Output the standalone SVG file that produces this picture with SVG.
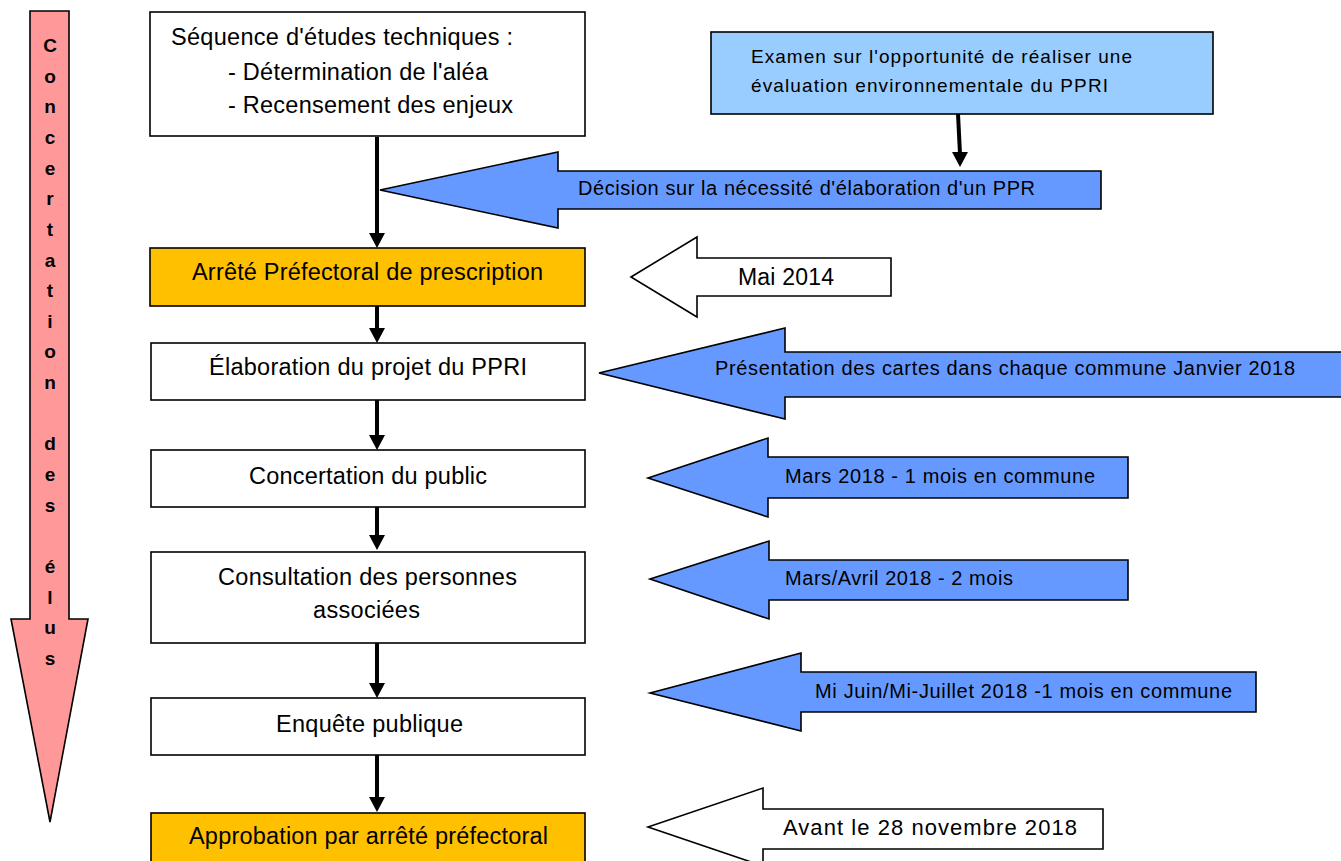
<svg xmlns="http://www.w3.org/2000/svg" width="1341" height="861" viewBox="0 0 1341 861">
<style>
  .box { fill: #ffffff; stroke: #000000; stroke-width: 1.6; }
  .orange { fill: #FFC000; }
  .lblue { fill: #99CCFF; }
  .arrowB { fill: #6699FF; stroke: #000000; stroke-width: 1.6; stroke-linejoin: miter; }
  .arrowW { fill: #ffffff; stroke: #000000; stroke-width: 1.6; }
  .t { font-family: "Liberation Sans", Arial, sans-serif; fill: #000000; }
  .bt { font-size: 23.5px; }
  .at { font-size: 20px; }
  .conn line { stroke: #000000; stroke-width: 4; }
  .conn polygon { fill: #000000; }
</style>

<g id="concertation-elus">
  <polygon points="30,11 69,11 69,619 88,619 50,822 11,619 30,619" fill="#FF9999" stroke="#000000" stroke-width="1.6"/>
  <text class="t" x="50" y="52" font-size="19" font-weight="bold" text-anchor="middle"><tspan x="50">C</tspan><tspan x="50" dy="30.65">o</tspan><tspan x="50" dy="30.65">n</tspan><tspan x="50" dy="30.65">c</tspan><tspan x="50" dy="30.65">e</tspan><tspan x="50" dy="30.65">r</tspan><tspan x="50" dy="30.65">t</tspan><tspan x="50" dy="30.65">a</tspan><tspan x="50" dy="30.65">t</tspan><tspan x="50" dy="30.65">i</tspan><tspan x="50" dy="30.65">o</tspan><tspan x="50" dy="30.65">n</tspan><tspan x="50" dy="61.3">d</tspan><tspan x="50" dy="30.65">e</tspan><tspan x="50" dy="30.65">s</tspan><tspan x="50" dy="61.3">é</tspan><tspan x="50" dy="30.65">l</tspan><tspan x="50" dy="30.65">u</tspan><tspan x="50" dy="30.65">s</tspan></text>
</g>

<g id="etudes">
  <rect class="box" x="150" y="12" width="435" height="124"/>
  <text class="t bt" x="171" y="45" textLength="342" lengthAdjust="spacing">Séquence d'études techniques :</text>
  <text class="t bt" x="228" y="80" textLength="260" lengthAdjust="spacing">- Détermination de l'aléa</text>
  <text class="t bt" x="228" y="113" textLength="285" lengthAdjust="spacing">- Recensement des enjeux</text>
</g>

<g id="examen">
  <rect class="box lblue" x="711" y="32" width="502" height="82"/>
  <text class="t" font-size="19" x="751" y="63" textLength="381" lengthAdjust="spacing">Examen sur l'opportunité de réaliser une</text>
  <text class="t" font-size="19" x="751" y="92" textLength="357" lengthAdjust="spacing">évaluation environnementale du PPRI</text>
</g>

<g id="decision">
  <polygon class="arrowB" points="380,190 558,152 558,171 1101,171 1101,209 558,209 558,228"/>
  <text class="t at" x="578" y="195" textLength="457" lengthAdjust="spacing">Décision sur la nécessité d'élaboration d'un PPR</text>
</g>

<g id="arrete">
  <rect class="box orange" x="150" y="248" width="435" height="58"/>
  <text class="t bt" x="192" y="280" textLength="351" lengthAdjust="spacing">Arrêté Préfectoral de prescription</text>
</g>

<g id="mai2014">
  <polygon class="arrowW" points="631,277 697,237 697,258 891,258 891,296 697,296 697,317"/>
  <text class="t" font-size="23" x="738" y="285" textLength="96" lengthAdjust="spacing">Mai 2014</text>
</g>

<g id="elaboration">
  <rect class="box" x="151" y="343" width="434" height="57"/>
  <text class="t bt" x="209" y="375" textLength="318" lengthAdjust="spacing">Élaboration du projet du PPRI</text>
</g>

<g id="presentation">
  <polygon class="arrowB" points="599,373 785,328 785,352 1346,352 1346,397 785,397 785,419"/>
  <text class="t at" x="715" y="375" textLength="580" lengthAdjust="spacing">Présentation des cartes dans chaque commune Janvier 2018</text>
</g>

<g id="concertation-public">
  <rect class="box" x="151" y="450" width="434" height="57"/>
  <text class="t bt" x="249" y="484" textLength="238" lengthAdjust="spacing">Concertation du public</text>
</g>

<g id="mars2018">
  <polygon class="arrowB" points="648,478 768,438 768,457 1128,457 1128,498 768,498 768,517"/>
  <text class="t at" x="785" y="483" textLength="310" lengthAdjust="spacing">Mars 2018 - 1 mois en commune</text>
</g>

<g id="consultation">
  <rect class="box" x="151" y="552" width="434" height="91"/>
  <text class="t bt" x="218" y="585" textLength="299" lengthAdjust="spacing">Consultation des personnes</text>
  <text class="t bt" x="313" y="618" textLength="107" lengthAdjust="spacing">associées</text>
</g>

<g id="mars-avril">
  <polygon class="arrowB" points="650,579 769,541 769,560 1128,560 1128,600 769,600 769,619"/>
  <text class="t at" x="785" y="585" textLength="228" lengthAdjust="spacing">Mars/Avril 2018 - 2 mois</text>
</g>

<g id="enquete">
  <rect class="box" x="151" y="698" width="434" height="57"/>
  <text class="t bt" x="276" y="732" textLength="187" lengthAdjust="spacing">Enquête publique</text>
</g>

<g id="mi-juin">
  <polygon class="arrowB" points="650,693 801,653 801,672 1256,672 1256,712 801,712 801,731"/>
  <text class="t at" x="815" y="698" textLength="417" lengthAdjust="spacing">Mi Juin/Mi-Juillet 2018 -1 mois en commune</text>
</g>

<g id="approbation">
  <rect class="box orange" x="151" y="813" width="434" height="60"/>
  <text class="t bt" x="189" y="844" textLength="359" lengthAdjust="spacing">Approbation par arrêté préfectoral</text>
</g>

<g id="avant">
  <polygon class="arrowW" points="648,827 763,788 763,809 1103,809 1103,849 763,849 763,866"/>
  <text class="t" font-size="22" x="783" y="835" textLength="294" lengthAdjust="spacing">Avant le 28 novembre 2018</text>
</g>

<g id="connectors" class="conn">
  <line x1="377" y1="137" x2="377" y2="235"/>
  <polygon points="369,233 385,233 377,248"/>
  <line x1="377" y1="306" x2="377" y2="330"/>
  <polygon points="369,328 385,328 377,343"/>
  <line x1="377" y1="400" x2="377" y2="437"/>
  <polygon points="369,435 385,435 377,450"/>
  <line x1="377" y1="507" x2="377" y2="537"/>
  <polygon points="369,535 385,535 377,550"/>
  <line x1="377" y1="643" x2="377" y2="685"/>
  <polygon points="369,683 385,683 377,698"/>
  <line x1="377" y1="755" x2="377" y2="799"/>
  <polygon points="369,797 385,797 377,812"/>
  <line x1="958" y1="114" x2="960" y2="154"/>
  <polygon points="952,152 968,152 960,167"/>
</g>
</svg>
